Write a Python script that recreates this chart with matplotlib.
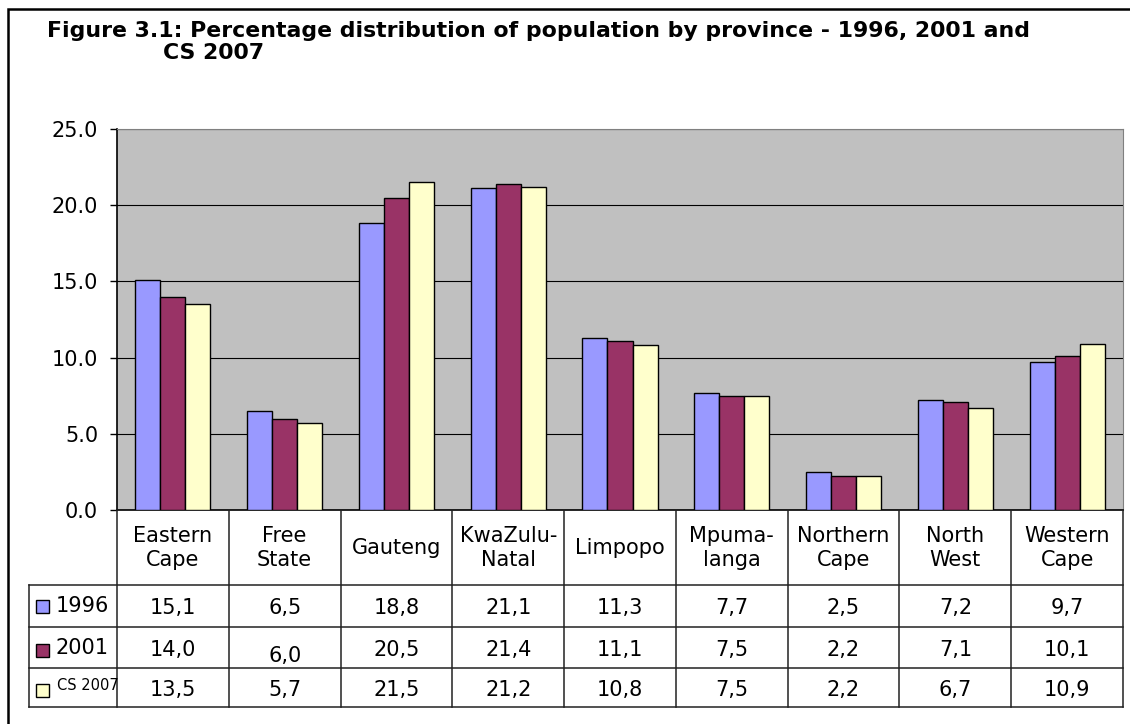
import matplotlib.pyplot as plt
from matplotlib.patches import Rectangle

# данные
provinces = ['Eastern\nCape', 'Free\nState', 'Gauteng', 'KwaZulu-\nNatal', 'Limpopo',
             'Mpuma-\nlanga', 'Northern\nCape', 'North\nWest', 'Western\nCape']
series = ['1996', '2001', 'CS 2007']
y1996 = [15.1, 6.5, 18.8, 21.1, 11.3, 7.7, 2.5, 7.2, 9.7]
y2001 = [14.0, 6.0, 20.5, 21.4, 11.1, 7.5, 2.2, 7.1, 10.1]
y2007 = [13.5, 5.7, 21.5, 21.2, 10.8, 7.5, 2.2, 6.7, 10.9]
yticks = [0, 5, 10, 15, 20, 25]

colors = ['#9999FF', '#993366', '#FFFFCC']
values = [y1996, y2001, y2007]

W, H = 1130, 724
fig = plt.figure(figsize=(W / 100, H / 100), dpi=100)
plt.rcParams['font.family'] = 'DejaVu Sans'

# рамка вокруг всего рисунка
fig.add_artist(Rectangle((8 / W, -0.05), 1.1, 1 - 8.5 / H + 0.05, transform=fig.transFigure,
                         fill=False, edgecolor='black', linewidth=1.8))

# заголовок
fig.text(47 / W, 1 - 31 / H, 'Figure 3.1: Percentage distribution of population by province - 1996, 2001 and',
         fontsize=15.8, fontweight='bold', va='center', ha='left')
fig.text(163 / W, 1 - 53 / H, 'CS 2007', fontsize=15.8, fontweight='bold', va='center', ha='left')

# область графика (в пикселях)
left, right, top, bottom = 117, 1123, 129, 510
ax = fig.add_axes([left / W, 1 - bottom / H, (right - left) / W, (bottom - top) / H])
ax.set_facecolor('#C0C0C0')
n = len(provinces)
bw = 0.224
for i, (vals, c) in enumerate(zip(values, colors)):
    xs = [k + (i - 1) * bw for k in range(n)]
    ax.bar(xs, vals, width=bw, color=c, edgecolor='black', linewidth=1.0, zorder=3)
ax.set_xlim(-0.5, n - 0.5)
ax.set_ylim(0, 25)
ax.set_yticks(yticks)
ax.set_yticklabels(['%.1f' % v for v in yticks], fontsize=15)
ax.tick_params(axis='y', length=5, width=1, pad=8.5)
ax.set_xticks([])
ax.yaxis.grid(True, color='black', linewidth=0.8, zorder=1)
ax.set_axisbelow(True)
for s in ['top', 'right']:
    ax.spines[s].set_color('#808080')
ax.spines['left'].set_linewidth(1.2)
ax.spines['bottom'].set_linewidth(1.2)

# таблица под графиком
tl, tb = 29, 707
cat_px = (right - left) / n
lab_w = (left - tl) / cat_px
axt = fig.add_axes([tl / W, 1 - tb / H, (right - tl) / W, (tb - bottom) / H])
axt.set_xlim(-0.5 - lab_w, n - 0.5)
axt.set_ylim(tb - bottom, 0)
axt.axis('off')

rows = [75, 117, 158, 197]
lc = '#222222'
for y in rows:
    axt.plot([-0.5 - lab_w, n - 0.5], [y, y], color=lc, linewidth=1.1, clip_on=False)
for k in range(n + 1):
    axt.plot([k - 0.5, k - 0.5], [0, rows[-1]], color=lc, linewidth=1.1, clip_on=False)
axt.plot([-0.5 - lab_w, -0.5 - lab_w], [rows[0], rows[-1]], color=lc, linewidth=1.1, clip_on=False)

for k, p in enumerate(provinces):
    axt.text(k, rows[0] / 2, p, ha='center', va='center', fontsize=15, linespacing=1.25)

sq = 13 / cat_px
for r, (name, vals, c) in enumerate(zip(series, values, colors)):
    yc = (rows[r] + rows[r + 1]) / 2
    axt.add_patch(Rectangle((-0.5 - lab_w + 7 / cat_px, yc - 6.5 + (3 if r > 0 else 0)), sq, 13,
                            facecolor=c, edgecolor='black', linewidth=1.0, clip_on=False))
    if name == 'CS 2007':
        axt.text(-0.5 - lab_w + 28 / cat_px, yc + 3, name, ha='left', va='baseline', fontsize=10.5)
    else:
        axt.text(-0.5 - lab_w + 27 / cat_px, yc, name, ha='left', va='center', fontsize=15)
    for k, v in enumerate(vals):
        dy = 7 if (r == 1 and k == 1) else 0
        axt.text(k, yc + 2 + dy, ('%.1f' % v).replace('.', ','), ha='center', va='center', fontsize=15)

fig.savefig('out.png', dpi=100)
